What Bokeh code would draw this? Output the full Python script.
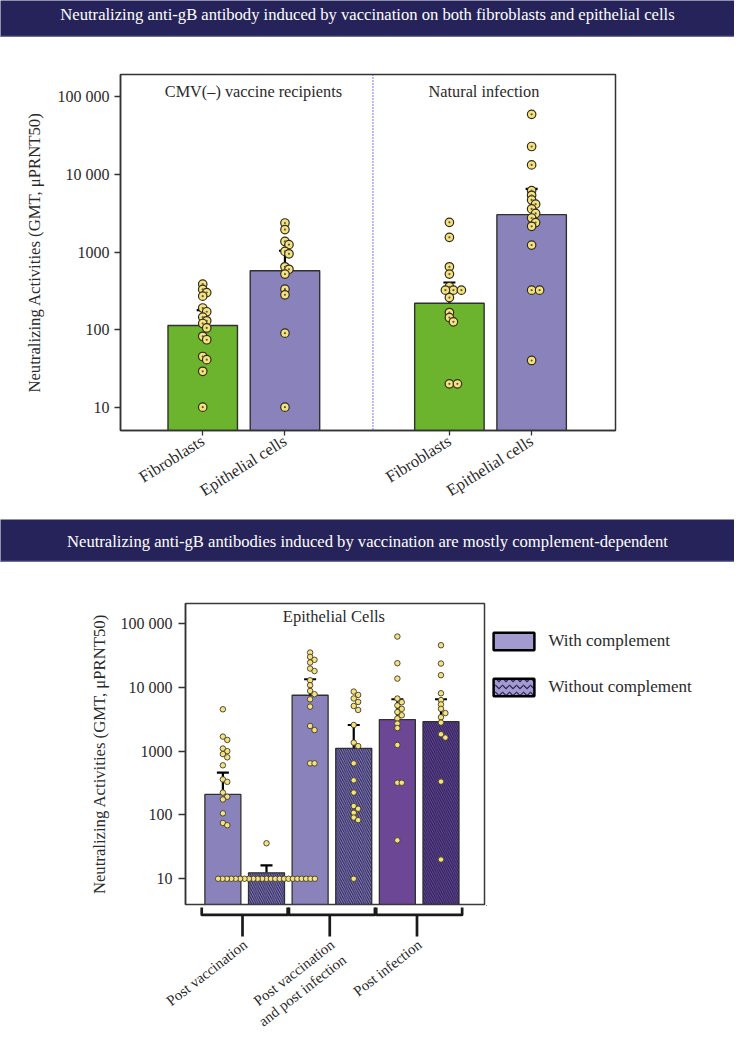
import numpy as np
from bokeh.plotting import figure
from bokeh.layouts import column, row
from bokeh.models import (Range1d, FixedTicker, Span, Whisker, TeeHead, ColumnDataSource,
                          Legend, LegendItem)
from bokeh.core.properties import value
from bokeh.embed import file_html
from bokeh.resources import INLINE

FONT = "Liberation Serif"

# ---------------- data ----------------
banner_titles = [
    "Neutralizing anti-gB antibody induced by vaccination on both fibroblasts and epithelial cells",
    "Neutralizing anti-gB antibodies induced by vaccination are mostly complement-dependent",
]
top_groups = ["CMV(\u2013) vaccine recipients", "Natural infection"]
top_cells = ["Fibroblasts", "Epithelial cells", "Fibroblasts", "Epithelial cells"]
top_gmt = [113, 574, 219, 3040]
top_err = [178, 1040, 405, 6530]
top_points = [
    [385, 330, 300, 270, 190, 170, 145, 130, 120, 105, 82, 74, 45, 41, 29, 10],
    [2370, 1950, 1370, 1245, 1020, 950, 646, 600, 520, 332, 281, 90, 10],
    [2420, 1550, 646, 520, 357, 323, 323, 323, 259, 166, 143, 126, 20, 20],
    [59700, 23000, 13300, 6200, 5400, 4700, 4150, 3600, 3150, 2750, 2400, 2150, 1230, 323, 323, 40],
]
y_ticks = [10, 100, 1000, 10000, 100000]
y_tick_labels = ["10", "100", "1000", "10 000", "100 000"]
y_label = "Neutralizing Activities (GMT, \u03bcPRNT50)"

bottom_title = "Epithelial Cells"
bottom_groups = ["Post vaccination", "Post vaccination\nand post infection", "Post infection"]
bottom_series = ["With complement", "Without complement"]
bottom_gmt = [210, 12.4, 7510, 1107, 3120, 2900]
bottom_err = [460, 16.2, 13400, 2570, 6500, 6500]
bottom_points = [
    [4530, 1690, 1500, 1100, 1000, 900, 800, 600, 361, 330, 224, 193, 175, 106, 75, 69],
    [36] + [10] * 23,
    [35100, 30000, 27000, 24500, 19700, 18000, 12900, 10800, 8790, 7800, 6500, 4990, 2480, 2140, 644, 644],
    [8580, 7600, 6700, 5900, 5100, 4420, 2570, 1360, 1200, 644, 349, 224, 138, 125, 108, 91, 83, 10],
    [62500, 23900, 13700, 6670, 5850, 5200, 4600, 4100, 3650, 3250, 2700, 2300, 1250, 320, 320, 40],
    [45700, 23600, 15500, 8070, 6310, 5400, 4600, 3950, 3400, 2800, 1840, 1630, 333, 20],
]

# ---------------- styles ----------------
NAVY = "#25235a"
NAVY_LINE = "#6e6c99"
GREEN = "#6cb32e"
PURPLE = "#8a83bb"
DARK_PURPLE = "#6b4796"
LEG_PURPLE = "#a39bcf"
DOT = "#f6e27c"
INK = "#2a2a2a"
HATCH = "#241f52"


def swarm(vals, center, ppu, ppd, mind, step):
    placed = []
    res = [0.0] * len(vals)
    order = sorted(range(len(vals)), key=lambda i: -vals[i])
    for i in order:
        ypx = np.log10(vals[i]) * ppd
        k = 0
        while True:
            off = 0.0 if k == 0 else ((k + 1) // 2) * step * (1 if k % 2 == 1 else -1)
            if all((off - px) ** 2 + (ypx - py) ** 2 >= mind ** 2 - 1e-9 for px, py in placed):
                break
            k += 1
        placed.append((off, ypx))
        res[i] = center + off / ppu
    return res


def style_yaxis(p, standoff_label):
    ax = p.yaxis[0]
    ax.ticker = FixedTicker(ticks=y_ticks, minor_ticks=[])
    ax.major_label_overrides = {t: l for t, l in zip(y_ticks, y_tick_labels)}
    ax.major_label_text_font = FONT
    ax.major_label_text_font_size = "16px"
    ax.major_label_text_color = INK
    ax.major_tick_out = 6
    ax.major_tick_in = 0
    ax.minor_tick_line_color = None
    ax.major_tick_line_color = "#333333"
    ax.major_tick_line_width = 1.3
    ax.axis_line_color = "#333333"
    ax.axis_line_width = 1.5
    ax.major_label_standoff = 5
    ax.axis_label = y_label
    ax.axis_label_text_font = FONT
    ax.axis_label_text_font_size = "16.7px"
    ax.axis_label_text_font_style = "normal"
    ax.axis_label_text_color = INK
    ax.axis_label_standoff = standoff_label


def blank_canvas(width, height, yrange=None, xrange=None):
    c = figure(width=width, height=height,
               x_range=xrange if xrange is not None else Range1d(0, width),
               y_range=yrange if yrange is not None else Range1d(0, height),
               output_backend="svg", toolbar_location=None, min_border=0,
               x_axis_location=None, y_axis_location=None, title=None, frame_align=False)
    c.outline_line_color = None
    c.xgrid.visible = False
    c.ygrid.visible = False
    return c


def banner(text, height, ty):
    b = blank_canvas(734, height)
    b.background_fill_color = NAVY
    b.border_fill_color = NAVY
    b.segment(x0=[0], y0=[0.8], x1=[734], y1=[0.8], line_color=NAVY_LINE, line_width=2)
    b.text(x=[367], y=[ty], text=[text], text_color="white", text_font=value(FONT),
           text_font_size="16.6px", text_align="center", text_baseline="middle")
    return b


# ---------------- banner 1 ----------------
b1 = banner(banner_titles[0], 37, 23)

# ---------------- top chart ----------------
PPU1 = 82.3
PPD1 = 77.3
ylo1, yhi1 = 5, 195000
p1 = figure(width=734, height=482, x_range=Range1d(0, 6.02), y_range=Range1d(ylo1, yhi1),
            y_axis_type="log", output_backend="svg", toolbar_location=None, title=None,
            frame_align=False,
            min_border_left=120, min_border_right=119, min_border_top=37, min_border_bottom=89)
p1.xgrid.visible = False
p1.ygrid.visible = False
p1.outline_line_color = "#333333"
p1.outline_line_width = 1.5

xs1 = [g * 3 + c + 1 for g in range(2) for c in range(2)]
cols1 = [GREEN, PURPLE, GREEN, PURPLE]
p1.vbar(x=xs1, top=top_gmt, bottom=ylo1, width=0.845, fill_color=cols1,
        line_color="#303030", line_width=1.4)
p1.add_layout(Span(location=3.07, dimension="height", line_color="#3434d8",
                   line_dash="1 2", line_width=1.3))
src1 = ColumnDataSource(dict(x=xs1, lower=top_gmt, upper=top_err))
p1.add_layout(Whisker(source=src1, base="x", lower="lower", upper="upper", dimension="height",
                      line_color="black", line_width=2.2,
                      upper_head=TeeHead(size=12, line_width=2.2, line_color="black"),
                      lower_head=None))
dx, dy = [], []
for xc, pts in zip(xs1, top_points):
    dx += swarm(pts, xc, PPU1, PPD1, 4.6, 4.0)
    dy += pts
p1.scatter(x=dx, y=dy, size=8.5, fill_color=DOT, line_color="#2e2b20", line_width=1.2)
p1.scatter(x=dx, y=dy, size=2.2, fill_color="#5a5a4a", line_color=None)
p1.text(x=[1.616, 4.42], y=[116000, 116000], text=top_groups, text_font=value(FONT),
        text_font_size="16.3px", text_align="center", text_baseline="middle", text_color=INK)

xa = p1.xaxis[0]
xa.ticker = FixedTicker(ticks=xs1, minor_ticks=[])
xa.major_label_overrides = {x: l for x, l in zip(xs1, top_cells)}
xa.major_label_orientation = 0.56
xa.major_label_text_font = FONT
xa.major_label_text_font_size = "16.5px"
xa.major_label_text_color = INK
xa.major_tick_out = 5
xa.major_tick_in = 0
xa.major_tick_line_color = "#333333"
xa.major_tick_line_width = 1.3
xa.axis_line_color = "#333333"
xa.axis_line_width = 1.5
xa.major_label_standoff = 4
style_yaxis(p1, 11)

# ---------------- banner 2 ----------------
b2 = banner(banner_titles[1], 43, 21)

# ---------------- bottom chart ----------------
PPU2 = 43.62
PPD2 = 63.75
x2_start = 0.143
x2_end = x2_start + 299 / PPU2
ylo2, yhi2 = 3.95, 206000
H2 = 344
p2 = figure(width=486, height=H2, x_range=Range1d(x2_start, x2_end), y_range=Range1d(ylo2, yhi2),
            y_axis_type="log", output_backend="svg", toolbar_location=None, title=None,
            x_axis_location=None, frame_align=False,
            min_border_left=185, min_border_right=2, min_border_top=41, min_border_bottom=2)
p2.xgrid.visible = False
p2.ygrid.visible = False
p2.outline_line_color = "#3a3a3a"
p2.outline_line_width = 1.5

xs2 = [i + 1 for i in range(6)]
cols2 = [PURPLE, PURPLE, PURPLE, PURPLE, DARK_PURPLE, DARK_PURPLE]
hatch2 = [" ", "left_diagonal_line"] * 3
src2 = ColumnDataSource(dict(x=xs2, top=bottom_gmt, fill=cols2, hatch=hatch2, upper=bottom_err))
p2.vbar(x="x", top="top", bottom=ylo2, width=0.825, fill_color="fill", hatch_pattern="hatch",
        hatch_color=HATCH, hatch_scale=4.5, hatch_weight=1.0, line_color="#303030",
        line_width=1.3, source=src2)
p2.add_layout(Whisker(source=src2, base="x", lower="top", upper="upper", dimension="height",
                      line_color="black", line_width=2.2,
                      upper_head=TeeHead(size=12, line_width=2.2, line_color="black"),
                      lower_head=None))
dx2, dy2 = [], []
for xc, pts in zip(xs2, bottom_points):
    dx2 += swarm(pts, xc, PPU2, PPD2, 4.3, 4.4)
    dy2 += pts
p2.scatter(x=dx2, y=dy2, size=5.5, fill_color=DOT, line_color="#3e3a2c", line_width=0.9)
p2.text(x=[3.545], y=[129000], text=[bottom_title], text_font=value(FONT),
        text_font_size="16.5px", text_align="center", text_baseline="middle", text_color=INK)
style_yaxis(p2, 9)
p2.yaxis[0].major_tick_out = 7
p2.yaxis[0].major_label_standoff = 6

# ---------------- legend panel (right of bottom chart) ----------------
pleg = blank_canvas(734 - 486, H2)
off_src = ColumnDataSource(dict(x=[-100], top=[-100]))
r_with = pleg.vbar(x="x", top="top", bottom=-200, width=1, fill_color=LEG_PURPLE,
                   line_color="black", line_width=2.5, source=off_src)
r_without = pleg.vbar(x="x", top="top", bottom=-200, width=1, fill_color=LEG_PURPLE,
                      line_color="black", line_width=2.5, hatch_pattern="horizontal_wave",
                      hatch_color=HATCH, hatch_scale=7, hatch_weight=1.2, source=off_src)
legend = Legend(items=[LegendItem(label=bottom_series[0], renderers=[r_with]),
                       LegendItem(label=bottom_series[1], renderers=[r_without])],
                location=(1.5, 208), orientation="vertical", glyph_width=51, glyph_height=22,
                label_height=22, spacing=24, label_standoff=10, label_text_font=FONT,
                label_text_font_size="17px", label_text_color=INK, border_line_color=None,
                background_fill_alpha=0, padding=0, margin=0)
pleg.add_layout(legend, "center")

# ---------------- brackets + group labels ----------------
H3 = 128
x3_start = x2_start - 185 / PPU2
x3_end = x3_start + 734 / PPU2
p3 = blank_canvas(734, H3, yrange=Range1d(H3, 0), xrange=Range1d(x3_start, x3_end))
centers = [2 * g + 1.5 for g in range(3)]
hw = 0.985
bx = [[c - hw, c - hw, c + hw, c + hw] for c in centers]
by = [[1, 8.3, 8.3, 1] for c in centers]
p3.multi_line(xs=bx, ys=by, line_color="#1a1a1a", line_width=2.7, line_join="round")
p3.segment(x0=[c - 0.05 for c in centers], y0=[8.3] * 3, x1=[c - 0.05 for c in centers],
           y1=[30] * 3, line_color="#1a1a1a", line_width=2.7)
p3.text(x=[c - 0.1 for c in centers], y=[30] * 3, text=bottom_groups, angle=0.66,
        text_align="right", text_baseline="top", text_font=value(FONT),
        text_font_size="14.8px", text_color=INK)

page = column(b1, p1, b2, row(p2, pleg), p3)
open("out.html", "w").write(file_html(page, INLINE))
